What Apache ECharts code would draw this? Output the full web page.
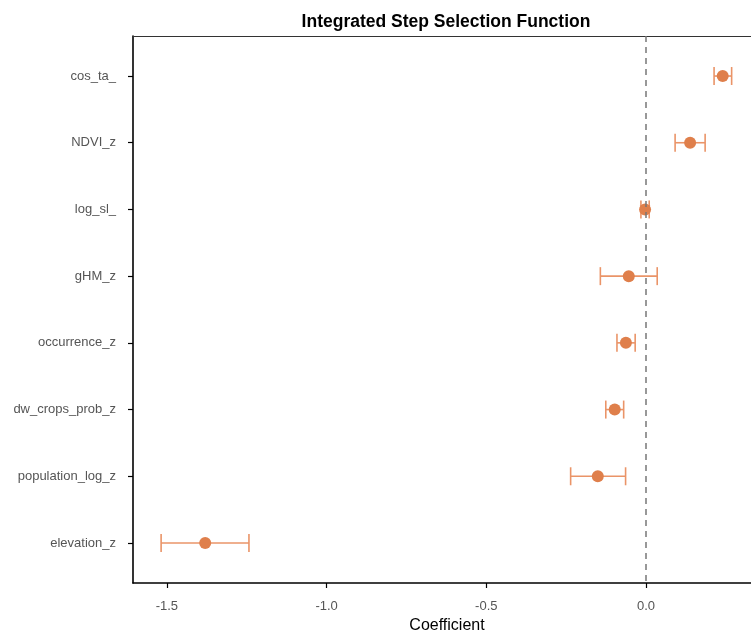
<!DOCTYPE html>
<html>
<head>
<meta charset="utf-8">
<script src="https://cdn.jsdelivr.net/npm/echarts@6/dist/echarts.min.js"></script>
<style>
  html, body { margin: 0; padding: 0; background: #fff; }
  #chart { width: 751px; height: 632px; }
</style>
</head>
<body>
<div id="chart"></div>
<script>
// 变量名（从上到下）
var terms = ['cos_ta_', 'NDVI_z', 'log_sl_', 'gHM_z', 'occurrence_z', 'dw_crops_prob_z', 'population_log_z', 'elevation_z'];
// 系数估计值
var estimate = [0.240, 0.138, -0.003, -0.054, -0.063, -0.098, -0.151, -1.380];
// 置信区间
var lower = [0.213, 0.091, -0.016, -0.143, -0.091, -0.126, -0.236, -1.518];
var upper = [0.268, 0.185, 0.010, 0.035, -0.034, -0.070, -0.064, -1.243];
// x轴刻度
var xTicks = [-1.5, -1.0, -0.5, 0.0];

var pointColor = '#DF7F4B';
var barColor = '#EA9468';
var font = 'Liberation Sans, Arial, sans-serif';

var yIdx = terms.map(function (t, i) { return i; });
var pointData = [];
var errData = [];
for (var i = 0; i < terms.length; i++) {
    pointData.push([estimate[i], i]);
    errData.push([lower[i], upper[i], i]);
}

//误差线
function renderErr(params, api) {
    var lo = api.coord([api.value(0), api.value(2)]);
    var hi = api.coord([api.value(1), api.value(2)]);
    var h = 9;
    var style = { stroke: barColor, lineWidth: 1.6, fill: null };
    return {
        type: 'group',
        children: [
            { type: 'line', shape: { x1: lo[0], y1: lo[1], x2: hi[0], y2: hi[1] }, style: style },
            { type: 'line', shape: { x1: lo[0], y1: lo[1] - h, x2: lo[0], y2: lo[1] + h }, style: style },
            { type: 'line', shape: { x1: hi[0], y1: hi[1] - h, x2: hi[0], y2: hi[1] + h }, style: style }
        ]
    };
}

var myChart = echarts.init(document.getElementById('chart'));
var option = {
    animation: false,
    backgroundColor: '#fff',
    title: {
        text: 'Integrated Step Selection Function',
        left: 441,
        top: 8,
        textAlign: 'center',
        textStyle: { fontFamily: font, fontSize: 17.5, fontWeight: 'bold', color: '#000' }
    },
    grid: { left: 133, right: 0, top: 36, bottom: 49, outerBoundsMode: 'none', containLabel: false },
    xAxis: [{
        type: 'value',
        min: -1.606,
        max: 0.3286,
        splitLine: { show: false },
        axisLine: { show: true, onZero: false, lineStyle: { color: '#000', width: 1.6 } },
        axisTick: { show: true, length: 5, customValues: xTicks, lineStyle: { color: '#000', width: 1.2 } },
        axisLabel: {
            customValues: xTicks,
            margin: 17,
            color: '#555',
            fontSize: 13,
            fontFamily: font,
            formatter: function (v) { return v.toFixed(1); }
        },
        name: 'Coefficient',
        nameLocation: 'middle',
        nameGap: 33,
        nameTextStyle: { color: '#000', fontSize: 16, fontFamily: font, padding: [0, 0, 0, 10] }
    }, {
        type: 'value',
        position: 'top',
        min: -1.606,
        max: 0.3286,
        splitLine: { show: false },
        axisLine: { show: true, onZero: false, lineStyle: { color: '#333', width: 1.2 } },
        axisTick: { show: false },
        axisLabel: { show: false }
    }],
    yAxis: {
        type: 'value',
        inverse: true,
        min: -0.6,
        max: 7.6,
        splitLine: { show: false },
        axisLine: { show: true, onZero: false, lineStyle: { color: '#000', width: 1.6 } },
        axisTick: { show: true, length: 5, customValues: yIdx, lineStyle: { color: '#000', width: 1.2 } },
        axisLabel: {
            customValues: yIdx,
            margin: 17,
            color: '#555',
            fontSize: 13,
            fontFamily: font,
            formatter: function (v) { return terms[Math.round(v)]; }
        }
    },
    series: [
        {
            type: 'custom',
            renderItem: renderErr,
            data: errData,
            encode: { x: [0, 1], y: 2 },
            z: 2,
            markLine: {
                silent: true,
                symbol: 'none',
                label: { show: false },
                lineStyle: { color: '#777', type: [6, 5], width: 1.5 },
                data: [{ xAxis: 0 }]
            }
        },
        {
            type: 'scatter',
            data: pointData,
            symbol: 'circle',
            symbolSize: 12,
            itemStyle: { color: pointColor, opacity: 1 },
            z: 3
        }
    ]
};
myChart.setOption(option);
</script>
</body>
</html>
